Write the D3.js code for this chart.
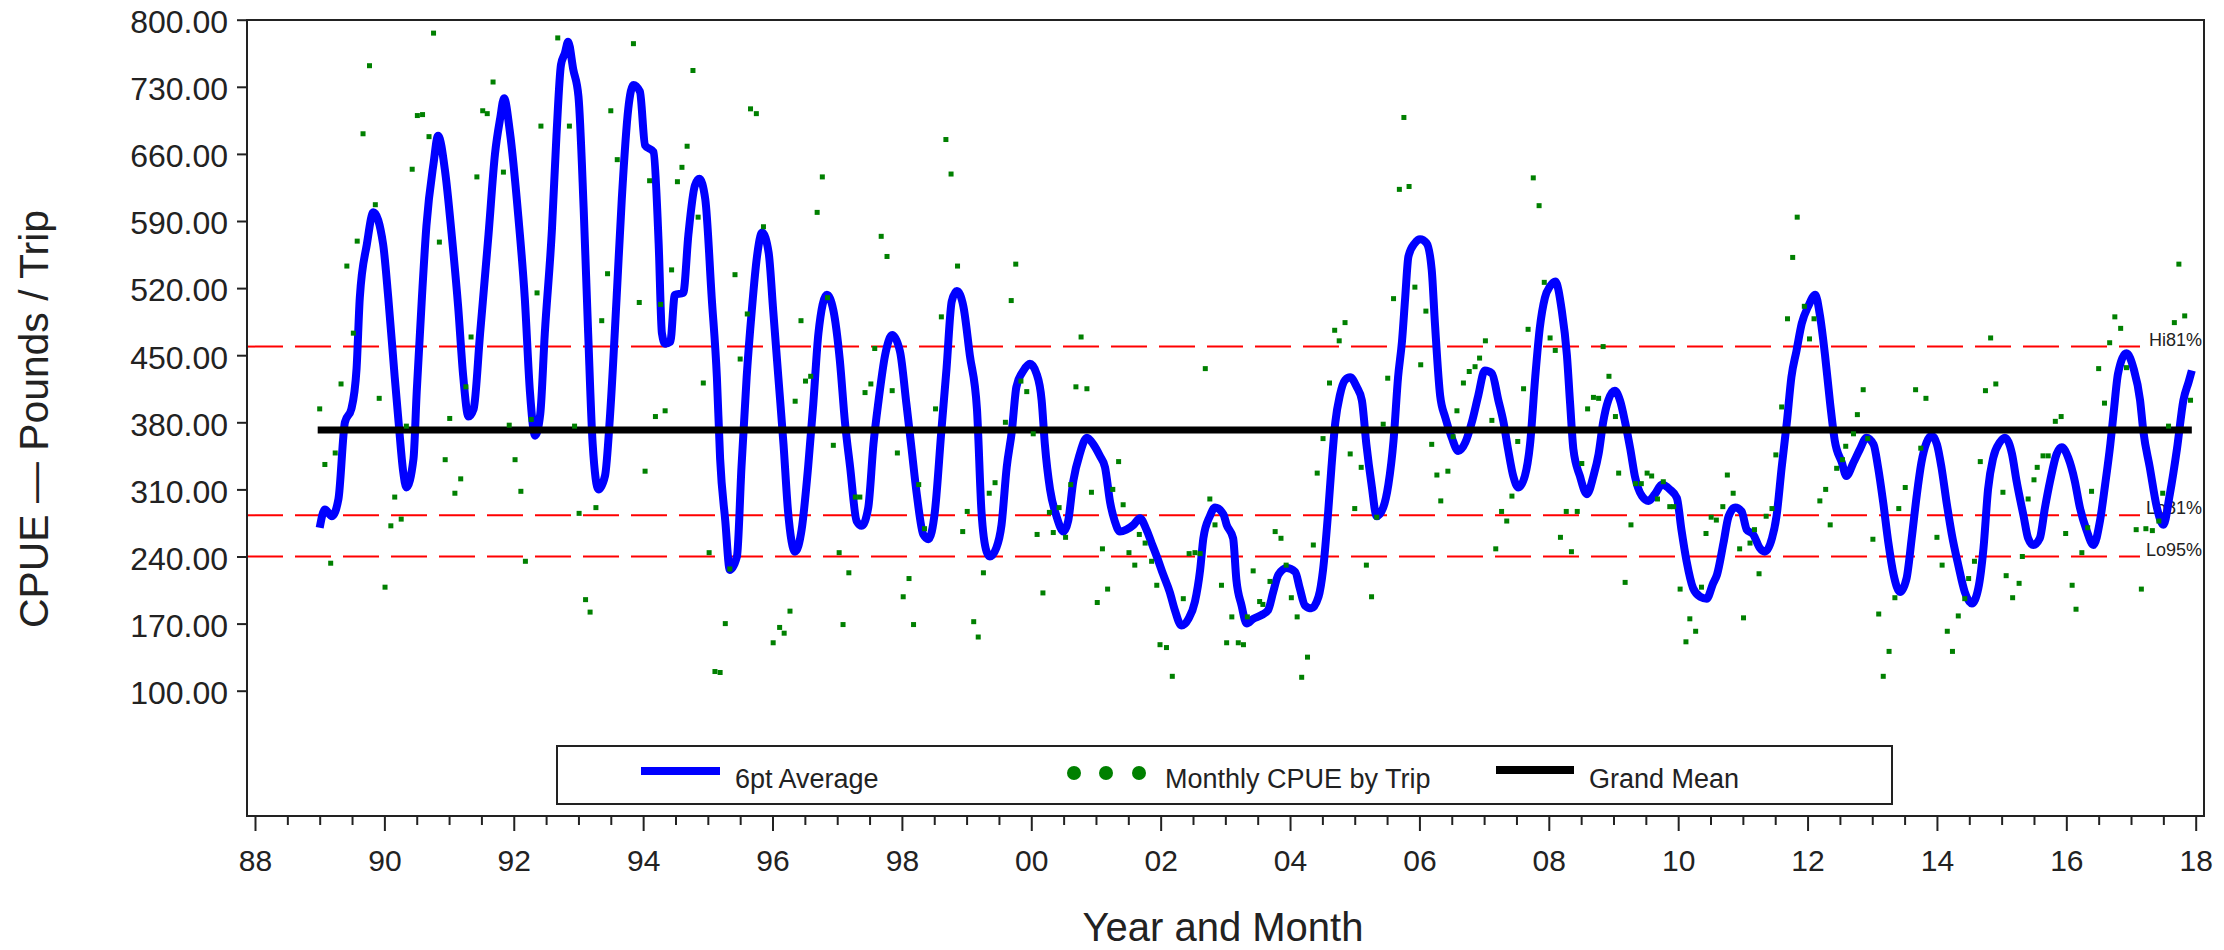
<!DOCTYPE html>
<html>
<head>
<meta charset="utf-8">
<script src="https://cdn.jsdelivr.net/npm/d3@7.9.0/dist/d3.min.js"></script>
<style>
  body { margin: 0; background: #fff; }
  svg { display: block; font-family: "Liberation Sans", Arial, sans-serif; }
</style>
</head>
<body>
<svg id="chart" width="2224" height="950"></svg>
<script>
// 6pt average: decimal year and lbs/trip
const avgYears = [
  1989.00, 1989.08, 1989.19, 1989.29, 1989.39, 1989.49, 1989.57, 1989.62, 1989.73, 1989.83, 1989.98,
  1990.06, 1990.16, 1990.22, 1990.29, 1990.34, 1990.45, 1990.50, 1990.58, 1990.65, 1990.76, 1990.83, 1990.94,
  1991.04, 1991.14, 1991.22, 1991.30, 1991.38, 1991.48, 1991.61, 1991.71, 1991.79, 1991.85, 1991.94,
  1992.07, 1992.17, 1992.25, 1992.33, 1992.41, 1992.48, 1992.59, 1992.66, 1992.73, 1992.79, 1992.84, 1992.92,
  1993.00, 1993.08, 1993.15, 1993.22, 1993.31, 1993.41, 1993.49, 1993.59, 1993.67, 1993.77, 1993.85, 1993.95,
  1994.03, 1994.16, 1994.24, 1994.29, 1994.34, 1994.42, 1994.49, 1994.62, 1994.70, 1994.80, 1994.87, 1994.96,
  1995.06, 1995.14, 1995.19, 1995.27, 1995.34, 1995.45, 1995.52, 1995.60, 1995.68, 1995.76, 1995.84, 1995.94,
  1996.01, 1996.09, 1996.17, 1996.24, 1996.35, 1996.45, 1996.55, 1996.63, 1996.71, 1996.84, 1996.94,
  1997.04, 1997.12, 1997.20, 1997.30, 1997.38, 1997.48, 1997.56, 1997.64, 1997.74, 1997.85, 1997.97,
  1998.07, 1998.15, 1998.23, 1998.33, 1998.41, 1998.51, 1998.61, 1998.69, 1998.77, 1998.85, 1998.95,
  1999.05, 1999.16, 1999.23, 1999.31, 1999.36, 1999.46, 1999.54, 1999.62, 1999.70, 1999.77, 1999.88, 1999.98,
  2000.08, 2000.16, 2000.21, 2000.29, 2000.39, 2000.50, 2000.57, 2000.65, 2000.75, 2000.86, 2000.96,
  2001.06, 2001.14, 2001.22, 2001.29, 2001.37, 2001.47, 2001.58, 2001.68, 2001.78, 2001.86, 2001.94,
  2002.04, 2002.14, 2002.22, 2002.32, 2002.43, 2002.53, 2002.61, 2002.66, 2002.76, 2002.84, 2002.97,
  2003.02, 2003.12, 2003.17, 2003.25, 2003.33, 2003.43, 2003.56, 2003.66, 2003.74, 2003.82, 2003.95,
  2004.08, 2004.15, 2004.23, 2004.33, 2004.44, 2004.51, 2004.59, 2004.64, 2004.70, 2004.77, 2004.85, 2004.93,
  2005.03, 2005.11, 2005.18, 2005.26, 2005.34, 2005.44, 2005.52, 2005.60, 2005.67, 2005.73, 2005.78, 2005.83, 2005.93,
  2006.01, 2006.11, 2006.19, 2006.24, 2006.32, 2006.40, 2006.50, 2006.60, 2006.71, 2006.81, 2006.91,
  2007.01, 2007.12, 2007.22, 2007.30, 2007.37, 2007.45, 2007.53, 2007.63, 2007.71, 2007.79, 2007.86, 2007.94,
  2008.02, 2008.10, 2008.20, 2008.28, 2008.33, 2008.38, 2008.48, 2008.59, 2008.69, 2008.77, 2008.84, 2008.92,
  2009.02, 2009.10, 2009.18, 2009.26, 2009.33, 2009.44, 2009.54, 2009.64, 2009.75, 2009.87, 2009.98,
  2010.05, 2010.13, 2010.23, 2010.34, 2010.44, 2010.54, 2010.60, 2010.70, 2010.78, 2010.88, 2010.98,
  2011.06, 2011.16, 2011.26, 2011.34, 2011.45, 2011.52, 2011.60, 2011.68, 2011.75, 2011.83, 2011.91,
  2012.01, 2012.12, 2012.19, 2012.27, 2012.35, 2012.42, 2012.53, 2012.60, 2012.71, 2012.81, 2012.91,
  2013.02, 2013.09, 2013.17, 2013.25, 2013.33, 2013.43, 2013.53, 2013.61, 2013.69, 2013.76, 2013.84, 2013.92,
  2014.00, 2014.07, 2014.15, 2014.23, 2014.33, 2014.43, 2014.54, 2014.64, 2014.72, 2014.79, 2014.87, 2014.97,
  2015.05, 2015.16, 2015.23, 2015.34, 2015.41, 2015.49, 2015.59, 2015.67, 2015.75, 2015.85, 2015.93,
  2016.03, 2016.13, 2016.21, 2016.31, 2016.42, 2016.52, 2016.60, 2016.68, 2016.73, 2016.80, 2016.93,
  2017.04, 2017.14, 2017.19, 2017.29, 2017.40, 2017.50, 2017.60, 2017.71, 2017.81, 2017.89, 2017.94
];
const avgValues = [
  270, 289, 282, 300, 380, 394, 436, 510, 566, 599, 566,
  510, 427, 380, 329, 312, 342, 412, 510, 585, 650, 679, 641,
  576, 501, 427, 386, 394, 473, 576, 660, 697, 718, 683,
  595, 510, 412, 366, 389, 473, 581, 679, 753, 765, 777, 748,
  720, 604, 473, 357, 310, 324, 389, 510, 613, 707, 732, 725,
  669, 662, 566, 473, 462, 464, 513, 515, 576, 627, 634, 613,
  510, 427, 342, 277, 226, 240, 333, 427, 497, 553, 578, 557,
  497, 427, 357, 287, 245, 268, 333, 399, 473, 513, 497,
  445, 380, 333, 277, 272, 291, 357, 403, 450, 471, 454,
  399, 352, 305, 263, 258, 287, 371, 436, 506, 517, 501,
  450, 394, 287, 245, 240, 249, 273, 333, 371, 417, 434, 441,
  431, 403, 357, 310, 282, 266, 277, 319, 347, 364, 357,
  345, 333, 296, 277, 266, 268, 273, 280, 268, 254, 240,
  221, 203, 184, 168, 175, 193, 226, 259, 282, 291, 284,
  273, 259, 216, 189, 170, 175, 179, 184, 203, 221, 228,
  224, 207, 189, 186, 198, 226, 287, 333, 380, 408, 424, 427,
  417, 403, 357, 315, 282, 291, 315, 361, 427, 464, 510, 553, 567,
  571, 567, 539, 483, 408, 385, 364, 350, 359, 380, 408,
  434, 431, 403, 380, 352, 324, 312, 324, 357, 427, 478, 510,
  522, 527, 497, 450, 399, 352, 324, 305, 324, 347, 380, 403,
  413, 403, 380, 352, 324, 303, 298, 305, 315, 310, 301,
  268, 235, 207, 198, 196, 212, 221, 254, 282, 291, 287,
  268, 263, 249, 245, 259, 282, 333, 380, 427, 455, 483,
  501, 513, 492, 450, 399, 361, 338, 324, 338, 352, 364,
  357, 333, 296, 254, 221, 203, 217, 259, 305, 338, 359, 366,
  357, 333, 296, 263, 231, 203, 191, 207, 249, 310, 343, 359,
  364, 347, 319, 282, 259, 252, 259, 291, 319, 347, 354,
  343, 319, 291, 268, 252, 277, 315, 357, 389, 431, 452,
  436, 403, 371, 333, 291, 273, 305, 352, 403, 422, 434
];

// monthly CPUE by trip (green points)
const monthYears = [
  1989.00, 1989.08, 1989.17, 1989.24, 1989.33, 1989.42, 1989.52, 1989.58, 1989.67, 1989.77, 1989.86, 1989.92,
  1990.01, 1990.10, 1990.16, 1990.26, 1990.34, 1990.43, 1990.51, 1990.59, 1990.69, 1990.76, 1990.85, 1990.94,
  1991.01, 1991.09, 1991.18, 1991.26, 1991.34, 1991.43, 1991.52, 1991.59, 1991.68, 1991.84, 1991.93,
  1992.02, 1992.11, 1992.18, 1992.27, 1992.36, 1992.42, 1992.68, 1992.86, 1992.94,
  1993.01, 1993.11, 1993.18, 1993.27, 1993.36, 1993.45, 1993.50, 1993.60, 1993.85, 1993.94,
  1994.03, 1994.10, 1994.19, 1994.27, 1994.34, 1994.44, 1994.53, 1994.60, 1994.68, 1994.77, 1994.85, 1994.93,
  1995.02, 1995.11, 1995.19, 1995.27, 1995.34, 1995.42, 1995.50, 1995.61, 1995.66, 1995.75, 1995.86,
  1996.01, 1996.11, 1996.18, 1996.27, 1996.35, 1996.44, 1996.51, 1996.59, 1996.69, 1996.77, 1996.85, 1996.94,
  1997.03, 1997.09, 1997.18, 1997.28, 1997.35, 1997.43, 1997.52, 1997.58, 1997.68, 1997.77, 1997.85, 1997.93,
  1998.02, 1998.11, 1998.18, 1998.26, 1998.35, 1998.52, 1998.61, 1998.68, 1998.76, 1998.86, 1998.94,
  1999.01, 1999.11, 1999.18, 1999.26, 1999.35, 1999.44, 1999.60, 1999.69, 1999.76, 1999.84, 1999.93,
  2000.03, 2000.09, 2000.18, 2000.28, 2000.34, 2000.43, 2000.53, 2000.61, 2000.69, 2000.77, 2000.86, 2000.93,
  2001.02, 2001.10, 2001.18, 2001.26, 2001.35, 2001.42, 2001.51, 2001.60, 2001.67, 2001.76, 2001.86, 2001.94,
  2001.99, 2002.09, 2002.18, 2002.35, 2002.44, 2002.53, 2002.61, 2002.69, 2002.76, 2002.84, 2002.94,
  2003.02, 2003.10, 2003.20, 2003.28, 2003.34, 2003.43, 2003.53, 2003.58, 2003.69, 2003.77, 2003.86, 2003.94,
  2004.02, 2004.11, 2004.18, 2004.27, 2004.36, 2004.42, 2004.51, 2004.61, 2004.69, 2004.76, 2004.85, 2004.93,
  2005.00, 2005.10, 2005.18, 2005.26, 2005.34, 2005.44, 2005.51, 2005.60, 2005.69, 2005.76, 2005.84, 2005.93,
  2006.02, 2006.10, 2006.19, 2006.27, 2006.33, 2006.44, 2006.52, 2006.58, 2006.68, 2006.77, 2006.86, 2006.93,
  2007.02, 2007.12, 2007.18, 2007.27, 2007.35, 2007.43, 2007.52, 2007.61, 2007.68, 2007.76, 2007.85, 2007.93,
  2008.02, 2008.10, 2008.18, 2008.27, 2008.35, 2008.44, 2008.51, 2008.60, 2008.69, 2008.77, 2008.84, 2008.93,
  2009.03, 2009.08, 2009.18, 2009.27, 2009.34, 2009.43, 2009.52, 2009.59, 2009.68, 2009.77, 2009.87, 2009.93,
  2010.03, 2010.12, 2010.18, 2010.27, 2010.36, 2010.43, 2010.51, 2010.59, 2010.69, 2010.76, 2010.85, 2010.95,
  2011.01, 2011.11, 2011.18, 2011.25, 2011.36, 2011.45, 2011.51, 2011.60, 2011.69, 2011.77, 2011.84, 2011.95,
  2012.03, 2012.10, 2012.19, 2012.28, 2012.35, 2012.45, 2012.54, 2012.59, 2012.71, 2012.77, 2012.86, 2012.93,
  2013.01, 2013.10, 2013.17, 2013.26, 2013.35, 2013.41, 2013.51, 2013.67, 2013.75, 2013.83,
  2014.00, 2014.08, 2014.16, 2014.24, 2014.33, 2014.43, 2014.49, 2014.58, 2014.67, 2014.75, 2014.83, 2014.91,
  2015.02, 2015.07, 2015.17, 2015.27, 2015.32, 2015.41, 2015.50, 2015.55, 2015.64, 2015.72, 2015.83, 2015.92,
  2015.99, 2016.09, 2016.15, 2016.24, 2016.33, 2016.39, 2016.50, 2016.59, 2016.67, 2016.75, 2016.84, 2016.93,
  2017.08, 2017.16, 2017.23, 2017.33, 2017.43, 2017.49, 2017.58, 2017.67, 2017.74, 2017.83, 2017.92
];
const monthValues = [
  394, 336, 233, 348, 420, 543, 473, 569, 681, 752, 607, 405,
  208, 272, 302, 279, 376, 644, 700, 701, 678, 786, 568, 341,
  384, 306, 321, 417, 469, 636, 705, 702, 735, 641, 377,
  341, 308, 235, 383, 515, 689, 781, 689, 376,
  285, 195, 182, 291, 486, 535, 705, 654, 775, 505,
  329, 632, 386, 503, 392, 539, 631, 646, 668, 747, 594, 421,
  244, 120, 119, 170, 227, 534, 446, 493, 707, 702, 584,
  150, 166, 160, 183, 402, 486, 423, 428, 599, 636, 510, 356,
  244, 169, 223, 302, 302, 411, 420, 457, 574, 553, 413, 348,
  198, 217, 169, 315, 269, 394, 490, 675, 639, 543, 266,
  287, 172, 156, 223, 306, 317, 380, 507, 545, 423, 412,
  368, 263, 202, 286, 265, 291, 260, 315, 417, 469, 415, 307,
  192, 248, 206, 310, 339, 294, 244, 231, 263, 254, 235, 210,
  148, 145, 115, 196, 243, 244, 243, 436, 300, 273, 210,
  150, 177, 150, 148, 177, 225, 193, 190, 214, 266, 259, 231,
  197, 177, 114, 135, 252, 327, 363, 421, 476, 465, 484, 347,
  290, 333, 231, 198, 281, 378, 426, 509, 623, 698, 626, 521,
  440, 496, 357, 325, 298, 329, 365, 392, 421, 433, 438, 447,
  465, 382, 248, 287, 277, 303, 360, 415, 477, 635, 606, 526,
  468, 455, 260, 287, 245, 287, 337, 394, 406, 405, 459, 428,
  386, 327, 213, 273, 316, 316, 327, 324, 300, 318, 292, 292,
  206, 151, 175, 162, 208, 264, 281, 278, 292, 325, 306, 248,
  176, 254, 268, 222, 282, 290, 346, 396, 488, 552, 594, 501,
  467, 488, 298, 310, 273, 332, 341, 355, 368, 388, 414, 363,
  258, 180, 115, 141, 197, 290, 312, 414, 353, 405,
  260, 231, 162, 141, 178, 196, 217, 235, 339, 413, 468, 420,
  307, 220, 197, 212, 240, 300, 320, 333, 345, 345, 381, 386,
  264, 210, 185, 244, 270, 308, 436, 400, 463, 490, 478, 437,
  268, 206, 269, 267, 277, 306, 376, 484, 545, 491, 403
];

const grandMean = 372;
const refLabels = ['Hi81%', 'Lo81%', 'Lo95%'];
const refValues = [459, 283, 240];

const yTicks = [100, 170, 240, 310, 380, 450, 520, 590, 660, 730, 800];
const xMajor = [1988, 1990, 1992, 1994, 1996, 1998, 2000, 2002, 2004, 2006, 2008, 2010, 2012, 2014, 2016, 2018];

const W = 2224, H = 950;
const frame = { left: 247, right: 2204, top: 20, bottom: 816 };
const FONT = '"Liberation Sans", Arial, sans-serif';

const x = d3.scaleLinear().domain([1988, 2018]).range([255, 2195.7]);
const y = d3.scaleLinear().domain([100, 800]).range([690.7, 19.7]);

const svg = d3.select('#chart');
svg.append('rect').attr('width', W).attr('height', H).attr('fill', '#fff');

// confidence reference lines
refValues.forEach((v, i) => {
  svg.append('line')
    .attr('x1', frame.left).attr('x2', 2140)
    .attr('y1', y(v)).attr('y2', y(v))
    .attr('stroke', '#ff0000').attr('stroke-width', 2)
    .attr('stroke-dasharray', '36,12');
  svg.append('text')
    .attr('x', 2202).attr('y', y(v) - 1)
    .attr('text-anchor', 'end')
    .attr('font-size', 18).attr('fill', '#222')
    .text(refLabels[i]);
});

// 6pt average
const avgData = avgYears.map((t, i) => [t, avgValues[i]]);
const line = d3.line()
  .x(d => x(d[0]))
  .y(d => y(d[1]))
  .curve(d3.curveMonotoneX);

svg.append('path')
  .datum(avgData)
  .attr('d', line)
  .attr('fill', 'none')
  .attr('stroke', '#0000ff')
  .attr('stroke-width', 8)
  .attr('stroke-linejoin', 'round');

// grand mean
const span = d3.extent(avgYears);
svg.append('line')
  .attr('x1', x(span[0]) - 2).attr('x2', x(span[1]))
  .attr('y1', y(grandMean)).attr('y2', y(grandMean))
  .attr('stroke', '#000').attr('stroke-width', 7);

// monthly points
svg.append('g')
  .selectAll('rect')
  .data(monthYears.map((t, i) => [t, monthValues[i]]))
  .join('rect')
  .attr('x', d => x(d[0]) - 2.5)
  .attr('y', d => y(d[1]) - 2.5)
  .attr('width', 5)
  .attr('height', 5)
  .attr('fill', '#008000');

// frame
svg.append('rect')
  .attr('x', frame.left).attr('y', frame.top)
  .attr('width', frame.right - frame.left)
  .attr('height', frame.bottom - frame.top)
  .attr('fill', 'none').attr('stroke', '#222').attr('stroke-width', 2);

// y axis
const yAxis = d3.axisLeft(y)
  .tickValues(yTicks)
  .tickSize(10)
  .tickPadding(9)
  .tickFormat(d3.format('.2f'));

svg.append('g')
  .attr('transform', `translate(${frame.left},0)`)
  .call(yAxis)
  .attr('font-size', 32).attr('font-family', FONT)
  .call(g => g.select('.domain').remove())
  .call(g => g.selectAll('line').attr('stroke', '#222').attr('stroke-width', 2))
  .call(g => g.selectAll('text').attr('fill', '#222').attr('dy', '0.4em'));

// x axis: majors with labels, minors every half year
const xAxis = d3.axisBottom(x)
  .tickValues(xMajor)
  .tickSize(15)
  .tickPadding(19)
  .tickFormat(d => String(d % 100).padStart(2, '0'));

svg.append('g')
  .attr('transform', `translate(0,${frame.bottom})`)
  .call(xAxis)
  .attr('font-size', 30).attr('font-family', FONT)
  .call(g => g.select('.domain').remove())
  .call(g => g.selectAll('line').attr('stroke', '#222').attr('stroke-width', 2))
  .call(g => g.selectAll('text').attr('fill', '#222'));

const minor = d3.range(1988.5, 2018, 0.5).filter(v => !xMajor.includes(v));
svg.append('g')
  .attr('transform', `translate(0,${frame.bottom})`)
  .call(d3.axisBottom(x).tickValues(minor).tickSize(9).tickFormat(''))
  .call(g => g.select('.domain').remove())
  .call(g => g.selectAll('line').attr('stroke', '#222').attr('stroke-width', 2));

// axis titles
svg.append('text')
  .attr('transform', 'translate(48,419) rotate(-90)')
  .attr('text-anchor', 'middle')
  .attr('font-size', 40)
  .attr('fill', '#222')
  .attr('textLength', 418)
  .attr('lengthAdjust', 'spacingAndGlyphs')
  .text('CPUE — Pounds / Trip');

svg.append('text')
  .attr('x', 1223).attr('y', 941)
  .attr('text-anchor', 'middle')
  .attr('font-size', 40)
  .attr('fill', '#222')
  .text('Year and Month');

// legend
const lg = svg.append('g').attr('font-size', 27).attr('fill', '#222');
lg.append('rect')
  .attr('x', 557).attr('y', 746).attr('width', 1335).attr('height', 58)
  .attr('fill', '#fff').attr('stroke', '#222').attr('stroke-width', 2);
lg.append('line').attr('x1', 641).attr('x2', 720).attr('y1', 771).attr('y2', 771)
  .attr('stroke', '#0000ff').attr('stroke-width', 8);
lg.append('text').attr('x', 735).attr('y', 788).text('6pt Average');
lg.selectAll('circle.key')
  .data([1074, 1106, 1139])
  .join('circle')
  .attr('class', 'key')
  .attr('cx', d => d).attr('cy', 773).attr('r', 7)
  .attr('fill', '#008000');
lg.append('text').attr('x', 1165).attr('y', 788).text('Monthly CPUE by Trip');
lg.append('line').attr('x1', 1496).attr('x2', 1574).attr('y1', 770).attr('y2', 770)
  .attr('stroke', '#000').attr('stroke-width', 8);
lg.append('text').attr('x', 1589).attr('y', 788).text('Grand Mean');
</script>
</body>
</html>
